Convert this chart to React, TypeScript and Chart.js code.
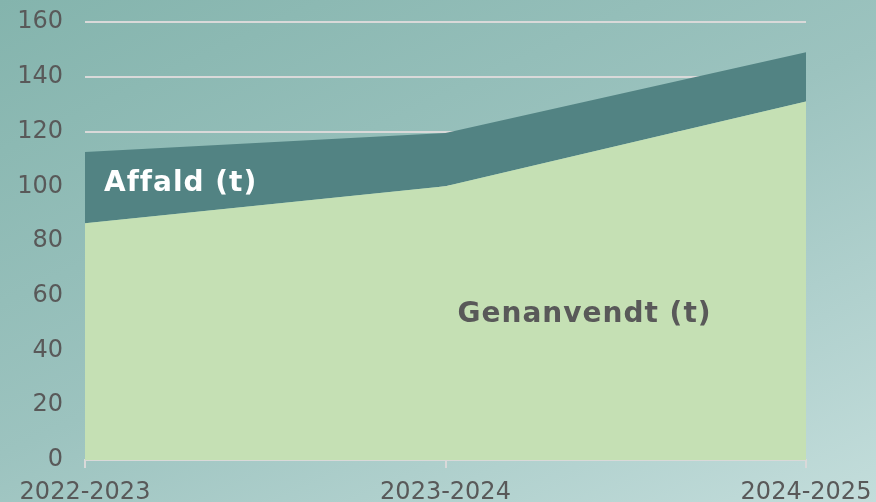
import React, { useEffect, useRef } from "react";
import { Chart, registerables } from "chart.js";

Chart.register(...registerables);

const categories = ["2022-2023", "2023-2024", "2024-2025"];
const genanvendt = [86.5, 100, 131];
const affald = [26, 19.5, 18];
const yTicks = [0, 20, 40, 60, 80, 100, 120, 140, 160];

const labelPlugin = {
  id: "areaLabels",
  afterDatasetsDraw(chart: any) {
    const { ctx, scales } = chart;
    const x = scales.x;
    const y = scales.y;
    ctx.save();
    ctx.font = "bold 28px 'DejaVu Sans'";
    (ctx as any).letterSpacing = "1px";
    ctx.textBaseline = "alphabetic";
    ctx.textAlign = "left";
    ctx.fillStyle = "#ffffff";
    ctx.fillText("Affald (t)", x.getPixelForValue(0) + 19, y.getPixelForValue(98.3));
    ctx.fillStyle = "#595959";
    ctx.fillText("Genanvendt (t)", x.getPixelForValue(1) + 12, y.getPixelForValue(50.4));
    ctx.restore();
  },
};

export default function App() {
  const ref = useRef<HTMLCanvasElement>(null);
  useEffect(() => {
    if (!ref.current) return;
    const chart = new Chart(ref.current, {
      type: "line",
      data: {
        labels: categories,
        datasets: [
          {
            label: "Genanvendt (t)",
            data: genanvendt,
            fill: "origin",
            backgroundColor: "#c5e0b4",
            borderWidth: 0,
            pointRadius: 0,
            tension: 0,
          },
          {
            label: "Affald (t)",
            data: affald,
            fill: "-1",
            backgroundColor: "#528383",
            borderWidth: 0,
            pointRadius: 0,
            tension: 0,
          },
        ],
      },
      options: {
        responsive: false,
        animation: false,
        layout: { padding: { top: 22, right: 70, left: 0, bottom: 0 } },
        plugins: { legend: { display: false }, tooltip: { enabled: false } },
        scales: {
          x: {
            offset: false,
            grid: {
              drawOnChartArea: false,
              drawTicks: true,
              tickLength: 8,
              color: "#d9d9d9",
              lineWidth: 2,
            },
            border: { display: true, color: "#d9d9d9", width: 2 },
            ticks: {
              color: "#595959",
              font: { family: "'DejaVu Sans'", size: 24, lineHeight: 1.7 },
              padding: 4,
              maxRotation: 0,
              autoSkip: false,
            },
            afterFit(scale: any) {
              scale.height = 42;
            },
          },
          y: {
            stacked: true,
            min: 0,
            max: 160,
            afterBuildTicks(scale: any) {
              scale.ticks = yTicks.map((v) => ({ value: v }));
            },
            grid: { color: "#d9d9d9", lineWidth: 2, drawTicks: false },
            border: { display: false },
            ticks: {
              color: "#595959",
              font: { family: "'DejaVu Sans'", size: 24, lineHeight: 0.01 },
              padding: 22,
            },
            afterFit(scale: any) {
              scale.width = 85;
            },
          },
        },
      },
      plugins: [labelPlugin],
    });
    return () => chart.destroy();
  }, []);
  return (
    <div
      style={{
        position: "fixed",
        left: 0,
        top: 0,
        width: 876,
        height: 502,
        background: "linear-gradient(155deg, #84b4ad 0%, #9cc3bf 50%, #c3dddb 100%)",
      }}
    >
      <canvas ref={ref} width={876} height={502} />
    </div>
  );
}
